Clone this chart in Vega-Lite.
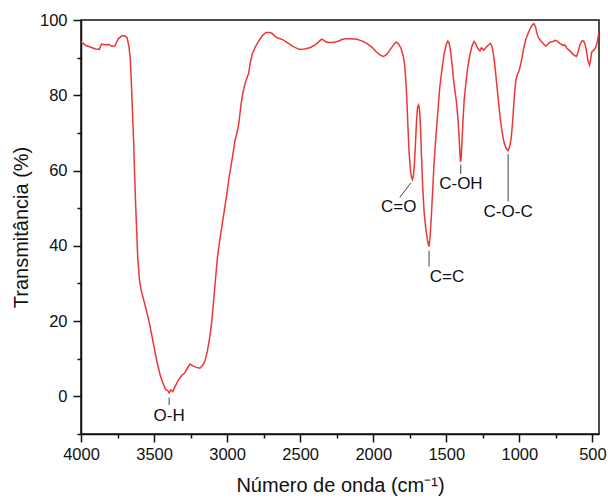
{
  "$schema": "https://vega.github.io/schema/vega-lite/v6.json",
  "width": 518,
  "height": 414,
  "autosize": "none",
  "padding": {"left": 81, "top": 20, "right": 9, "bottom": 65},
  "background": "white",
  "config": {
    "view": {"stroke": "#111", "strokeWidth": 1.5},
    "font": "Liberation Sans",
    "axis": {"grid": false, "domainColor": "#111", "domainWidth": 1.5, "tickColor": "#111", "tickWidth": 1.5, "labelFont": "Liberation Sans", "titleFont": "Liberation Sans", "labelColor": "#111", "titleColor": "#111", "labelFontSize": 16.5, "titleFontSize": 20, "titleFontWeight": "normal"}
  },
  "resolve": {"axis": {"x": "independent", "y": "independent"}},
  "datasets": {
    "spectrum": [
      {"wn":4000,"T":94.2},{"wn":3970,"T":93.3},{"wn":3942,"T":92.9},{"wn":3900,"T":92.3},{"wn":3875,"T":92.2},{"wn":3860,"T":93.6},{"wn":3840,"T":93.4},{"wn":3809,"T":93.5},{"wn":3790,"T":93.0},{"wn":3769,"T":93.1},{"wn":3745,"T":95.0},{"wn":3720,"T":95.8},{"wn":3700,"T":95.8},{"wn":3685,"T":95.3},{"wn":3672,"T":93},{"wn":3663,"T":89.8},{"wn":3655,"T":83},{"wn":3648,"T":76},{"wn":3640,"T":68},{"wn":3634,"T":60},{"wn":3627,"T":52},{"wn":3620,"T":45},{"wn":3612,"T":37},{"wn":3600,"T":31},{"wn":3590,"T":28.5},{"wn":3570,"T":25.5},{"wn":3555,"T":23.2},{"wn":3535,"T":20},{"wn":3517,"T":16.5},{"wn":3497,"T":12.5},{"wn":3477,"T":8.6},{"wn":3457,"T":5.5},{"wn":3437,"T":3.3},{"wn":3420,"T":1.8},{"wn":3405,"T":1.5},{"wn":3397,"T":0.9},{"wn":3385,"T":1.7},{"wn":3372,"T":1.3},{"wn":3355,"T":2.7},{"wn":3331,"T":4.5},{"wn":3310,"T":5.6},{"wn":3291,"T":6.2},{"wn":3270,"T":7.6},{"wn":3254,"T":8.6},{"wn":3235,"T":8.1},{"wn":3210,"T":7.7},{"wn":3186,"T":7.5},{"wn":3165,"T":8.4},{"wn":3151,"T":9.5},{"wn":3135,"T":12},{"wn":3119,"T":15.7},{"wn":3105,"T":20},{"wn":3092,"T":25.5},{"wn":3080,"T":31},{"wn":3066,"T":37},{"wn":3045,"T":43},{"wn":3026,"T":47.6},{"wn":3005,"T":53},{"wn":2986,"T":58.3},{"wn":2966,"T":63},{"wn":2946,"T":68},{"wn":2930,"T":70.5},{"wn":2920,"T":72.5},{"wn":2905,"T":77.5},{"wn":2893,"T":80.5},{"wn":2875,"T":83.5},{"wn":2853,"T":85.8},{"wn":2840,"T":89},{"wn":2827,"T":91.1},{"wn":2805,"T":93},{"wn":2787,"T":94.2},{"wn":2760,"T":95.8},{"wn":2734,"T":96.7},{"wn":2710,"T":96.7},{"wn":2694,"T":96.5},{"wn":2675,"T":95.8},{"wn":2654,"T":95.2},{"wn":2620,"T":94.8},{"wn":2588,"T":94.0},{"wn":2550,"T":93.0},{"wn":2508,"T":92.2},{"wn":2470,"T":92.3},{"wn":2429,"T":92.7},{"wn":2390,"T":93.6},{"wn":2360,"T":94.7},{"wn":2349,"T":94.9},{"wn":2325,"T":94.2},{"wn":2309,"T":94.0},{"wn":2270,"T":94.1},{"wn":2243,"T":94.3},{"wn":2215,"T":94.8},{"wn":2190,"T":95.0},{"wn":2150,"T":95.0},{"wn":2110,"T":94.9},{"wn":2075,"T":94.4},{"wn":2044,"T":93.8},{"wn":2010,"T":92.8},{"wn":1978,"T":91.5},{"wn":1950,"T":90.6},{"wn":1930,"T":90.3},{"wn":1910,"T":90.8},{"wn":1890,"T":91.8},{"wn":1865,"T":93.2},{"wn":1845,"T":94.1},{"wn":1830,"T":93.8},{"wn":1810,"T":92.5},{"wn":1795,"T":90.5},{"wn":1785,"T":88},{"wn":1777,"T":84},{"wn":1770,"T":79},{"wn":1763,"T":72},{"wn":1755,"T":65},{"wn":1745,"T":60},{"wn":1738,"T":58.2},{"wn":1731,"T":57.6},{"wn":1724,"T":59},{"wn":1717,"T":62.5},{"wn":1710,"T":68},{"wn":1704,"T":73},{"wn":1697,"T":76.8},{"wn":1690,"T":77.4},{"wn":1684,"T":76.5},{"wn":1677,"T":72},{"wn":1670,"T":64},{"wn":1662,"T":56},{"wn":1652,"T":49},{"wn":1640,"T":44.5},{"wn":1628,"T":41.2},{"wn":1618,"T":39.8},{"wn":1610,"T":43},{"wn":1602,"T":48},{"wn":1593,"T":55},{"wn":1585,"T":61},{"wn":1575,"T":67},{"wn":1565,"T":72},{"wn":1555,"T":77},{"wn":1545,"T":82},{"wn":1530,"T":86.8},{"wn":1515,"T":91},{"wn":1500,"T":93.6},{"wn":1490,"T":94.4},{"wn":1480,"T":93.8},{"wn":1470,"T":91.5},{"wn":1460,"T":88},{"wn":1450,"T":84},{"wn":1440,"T":81},{"wn":1430,"T":78},{"wn":1421,"T":74},{"wn":1414,"T":70},{"wn":1408,"T":65.5},{"wn":1403,"T":62.3},{"wn":1398,"T":63.5},{"wn":1393,"T":67.5},{"wn":1386,"T":73},{"wn":1378,"T":78.5},{"wn":1368,"T":82.5},{"wn":1355,"T":87},{"wn":1340,"T":90.5},{"wn":1325,"T":93},{"wn":1310,"T":94.3},{"wn":1300,"T":93.8},{"wn":1285,"T":92.5},{"wn":1270,"T":91.8},{"wn":1260,"T":92.6},{"wn":1245,"T":92},{"wn":1230,"T":92.6},{"wn":1215,"T":93.2},{"wn":1200,"T":93.8},{"wn":1190,"T":93.3},{"wn":1180,"T":91.5},{"wn":1168,"T":88},{"wn":1155,"T":83},{"wn":1142,"T":78},{"wn":1130,"T":73.5},{"wn":1117,"T":70},{"wn":1105,"T":67.5},{"wn":1090,"T":65.8},{"wn":1077,"T":65.3},{"wn":1065,"T":66.5},{"wn":1055,"T":69},{"wn":1047,"T":72.5},{"wn":1040,"T":76.5},{"wn":1033,"T":80.5},{"wn":1025,"T":83.8},{"wn":1015,"T":85.3},{"wn":1005,"T":86.2},{"wn":995,"T":87.5},{"wn":982,"T":90},{"wn":970,"T":92.5},{"wn":956,"T":94.8},{"wn":940,"T":96.5},{"wn":925,"T":97.8},{"wn":910,"T":98.8},{"wn":900,"T":99.0},{"wn":890,"T":98.3},{"wn":880,"T":96.5},{"wn":870,"T":95.3},{"wn":860,"T":94.8},{"wn":850,"T":94.3},{"wn":835,"T":93.7},{"wn":820,"T":93.1},{"wn":810,"T":93.3},{"wn":800,"T":93.8},{"wn":785,"T":94.2},{"wn":770,"T":94.3},{"wn":755,"T":94.6},{"wn":740,"T":94.4},{"wn":725,"T":93.8},{"wn":710,"T":93.5},{"wn":700,"T":93.2},{"wn":690,"T":93.4},{"wn":675,"T":92.5},{"wn":660,"T":92.0},{"wn":645,"T":91.4},{"wn":630,"T":90.8},{"wn":618,"T":90.5},{"wn":609,"T":90.3},{"wn":598,"T":91.5},{"wn":585,"T":93.5},{"wn":572,"T":94.4},{"wn":560,"T":94.4},{"wn":550,"T":93.5},{"wn":540,"T":91.5},{"wn":530,"T":89},{"wn":520,"T":88.0},{"wn":512,"T":89.5},{"wn":505,"T":91.5},{"wn":495,"T":91.8},{"wn":485,"T":92.2},{"wn":475,"T":93},{"wn":465,"T":94.5},{"wn":457,"T":96.3}
    ],
    "segments": [
      {"wn":3397,"T":-0.3,"wn2":3397,"T2":-2.3},
      {"wn":1743,"T":56.7,"wn2":1818,"T2":52.9},
      {"wn":1618,"T":38.7,"wn2":1618,"T2":34.5},
      {"wn":1401,"T":61.6,"wn2":1401,"T2":59.1},
      {"wn":1077,"T":64.4,"wn2":1077,"T2":51.8}
    ],
    "labels": [
      {"wn":3397,"T":-5.1,"text":"O-H"},
      {"wn":1825,"T":50.2,"text":"C=O"},
      {"wn":1495,"T":31.6,"text":"C=C"},
      {"wn":1400,"T":56.5,"text":"C-OH"},
      {"wn":1077,"T":48.9,"text":"C-O-C"}
    ]
  },
  "layer": [
    {
      "data": {"name": "segments"},
      "mark": {"type": "rule", "color": "#444", "strokeWidth": 1},
      "encoding": {
        "x": {"field": "wn", "type": "quantitative",
          "scale": {"domain": [4000, 455], "nice": false, "zero": false},
          "axis": {"orient": "bottom", "title": null, "values": [3750,3250,2750,2250,1750,1250,750], "labels": false, "domain": false, "tickSize": 4}},
        "y": {"field": "T", "type": "quantitative",
          "scale": {"domain": [-10, 100], "nice": false, "zero": false},
          "axis": {"orient": "left", "title": null, "values": [-10,10,30,50,70,90], "labels": false, "domain": false, "tickSize": 4}},
        "x2": {"field": "wn2"},
        "y2": {"field": "T2"}
      }
    },
    {
      "data": {"name": "spectrum"},
      "mark": {"type": "line", "color": "#ee3636", "strokeWidth": 1.5, "clip": true},
      "encoding": {
        "x": {"field": "wn", "type": "quantitative",
          "axis": {"orient": "bottom", "title": "Número de onda (cm⁻¹)", "values": [4000,3500,3000,2500,2000,1500,1000,500], "format": "d",
            "tickSize": 8, "labelPadding": 4, "titlePadding": 13, "labelFlush": false, "labelOverlap": false}},
        "y": {"field": "T", "type": "quantitative",
          "axis": {"orient": "left", "title": "Transmitância (%)", "values": [0,20,40,60,80,100], "format": "d",
            "tickSize": 8, "labelPadding": 6, "titlePadding": 8, "labelFlush": false, "labelOverlap": false}}
      }
    },
    {
      "data": {"name": "labels"},
      "mark": {"type": "text", "font": "Liberation Sans", "fontSize": 17, "color": "#111", "align": "center", "baseline": "middle"},
      "encoding": {
        "x": {"field": "wn", "type": "quantitative", "axis": null},
        "y": {"field": "T", "type": "quantitative", "axis": null},
        "text": {"field": "text"}
      }
    }
  ]
}
